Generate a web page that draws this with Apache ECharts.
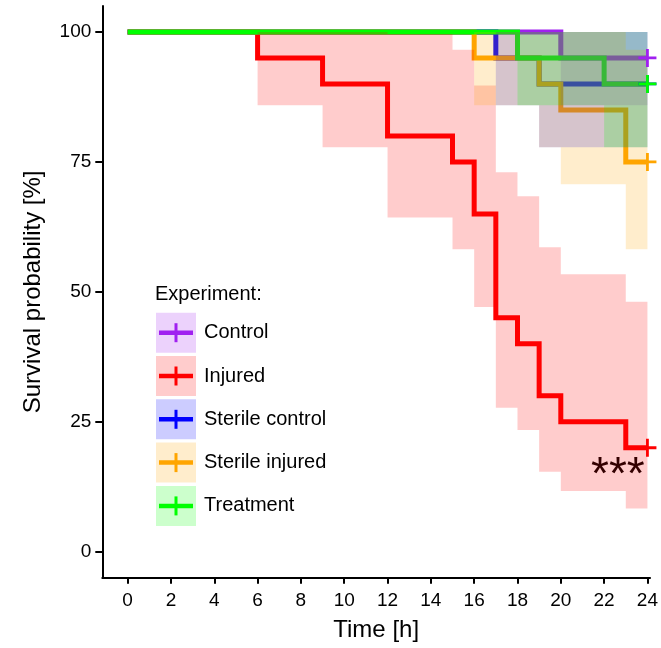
<!DOCTYPE html>
<html>
<head>
<meta charset="utf-8">
<script src="https://cdn.jsdelivr.net/npm/echarts@6/dist/echarts.min.js"></script>
<style>
  html, body { margin: 0; padding: 0; background: #fff; }
  #chart { width: 661px; height: 648px; }
</style>
</head>
<body>
<div id="chart"></div>
<script>
// groups and colours
const groups = ['Control', 'Injured', 'Sterile control', 'Sterile injured', 'Treatment'];
const colors = ['#A020F0', '#FF0000', '#0000FF', '#FFA500', '#00FF00'];

// Kaplan-Meier steps (time [h], survival [%]) with confidence band per interval
const controlTime  = [0, 20, 24];
const controlSurv  = [100, 95, 95];
const controlLow   = [100, 85.9, 85.9];
const controlUp    = [100, 100, 100];

const injuredTime  = [0, 6, 9, 12, 15, 16, 17, 18, 19, 20, 23, 24];
const injuredSurv  = [100, 95, 90, 80, 75, 65, 45, 40, 30, 25, 20, 20];
const injuredLow   = [100, 85.9, 77.8, 64.3, 58.2, 47.1, 27.7, 23.4, 15.4, 11.7, 8.3, 8.3];
const injuredUp    = [100, 100, 100, 99.6, 96.6, 89.7, 73.0, 68.4, 58.6, 53.4, 48.1, 48.1];

const sterCtrlTime = [0, 17, 19, 24];
const sterCtrlSurv = [100, 95, 90, 90];
const sterCtrlLow  = [100, 85.9, 77.8, 77.8];
const sterCtrlUp   = [100, 100, 100, 100];

const sterInjTime  = [0, 16, 19, 20, 23, 24];
const sterInjSurv  = [100, 95, 90, 85, 75, 75];
const sterInjLow   = [100, 85.9, 77.8, 70.7, 58.2, 58.2];
const sterInjUp    = [100, 100, 100, 100, 96.6, 96.6];

const treatTime    = [0, 18, 22, 24];
const treatSurv    = [100, 95, 90, 90];
const treatLow     = [100, 85.9, 77.8, 77.8];
const treatUp      = [100, 100, 100, 100];

const xTicks = [0, 2, 4, 6, 8, 10, 12, 14, 16, 18, 20, 22, 24];
const yTicks = [0, 25, 50, 75, 100];

const curves = [
  {t: controlTime,  s: controlSurv,  lo: controlLow,  up: controlUp},
  {t: injuredTime,  s: injuredSurv,  lo: injuredLow,  up: injuredUp},
  {t: sterCtrlTime, s: sterCtrlSurv, lo: sterCtrlLow, up: sterCtrlUp},
  {t: sterInjTime,  s: sterInjSurv,  lo: sterInjLow,  up: sterInjUp},
  {t: treatTime,    s: treatSurv,    lo: treatLow,    up: treatUp}
];

const FONT = '"Liberation Sans", Arial, Helvetica, sans-serif';
const plusPath = 'path://M7.6,0 h2.8 v18 h-2.8 z M0,7.6 h18 v2.8 h-18 z';

let chart = echarts.init(document.getElementById('chart'));

let series = [];
// step lines (drawn first, bands go on top like in ggsurvplot)
curves.forEach((c, i) => {
  series.push({
    name: groups[i],
    type: 'line',
    step: 'end',
    z: 2,
    symbol: 'none',
    silent: true,
    data: c.t.map((t, k) => [t, c.s[k]]),
    lineStyle: {color: colors[i], width: 5, cap: 'butt', join: 'miter'}
  });
});
// confidence bands
curves.forEach((c, i) => {
  series.push({
    name: groups[i] + ' CI',
    type: 'custom',
    z: 3,
    silent: true,
    data: [[c.t[0], c.s[0]]],
    renderItem: function (params, api) {
      let pts = [];
      for (let k = 0; k < c.t.length - 1; k++) {
        pts.push(api.coord([c.t[k], c.up[k]]));
        pts.push(api.coord([c.t[k + 1], c.up[k]]));
      }
      for (let k = c.t.length - 2; k >= 0; k--) {
        pts.push(api.coord([c.t[k + 1], c.lo[k]]));
        pts.push(api.coord([c.t[k], c.lo[k]]));
      }
      return {
        type: 'polygon',
        shape: {points: pts},
        style: {fill: colors[i], opacity: 0.2}
      };
    }
  });
});
// censor marks at the end
curves.forEach((c, i) => {
  let last = c.t.length - 1;
  series.push({
    name: groups[i] + ' censor',
    type: 'scatter',
    z: 4,
    silent: true,
    symbol: plusPath,
    symbolSize: 18,
    data: [[c.t[last], c.s[last]]],
    itemStyle: {color: colors[i], opacity: 1}
  });
});

// legend drawn as graphic (box + plus + label)
let legendItems = [{
  type: 'text', left: 155, top: 284,
  style: {text: 'Experiment:', font: '20px ' + FONT, fill: '#000'}
}];
groups.forEach((g, i) => {
  let y = 312.7 + i * 43.3;
  legendItems.push({
    type: 'rect', shape: {x: 156, y: y, width: 40, height: 40},
    style: {fill: colors[i], opacity: 0.2}
  });
  legendItems.push({
    type: 'line', shape: {x1: 159, y1: y + 20, x2: 193, y2: y + 20},
    style: {stroke: colors[i], lineWidth: 4.5}
  });
  legendItems.push({
    type: 'line', shape: {x1: 176, y1: y + 10.5, x2: 176, y2: y + 29.5},
    style: {stroke: colors[i], lineWidth: 3}
  });
  legendItems.push({
    type: 'text', left: 204, top: y + 10,
    style: {text: g, font: '20px ' + FONT, fill: '#000'}
  });
});
legendItems.push({
  type: 'text', left: 591, top: 453,
  style: {text: '***', font: '46px ' + FONT, fill: '#000'}
});

chart.setOption({
  animation: false,
  backgroundColor: '#fff',
  grid: {left: 102.3, right: 6, top: 6, bottom: 70.3},
  xAxis: {
    type: 'value',
    min: -1.17,
    max: 24.12,
    name: 'Time [h]',
    nameLocation: 'middle',
    nameGap: 41,
    nameTextStyle: {fontFamily: FONT, fontSize: 24, color: '#000'},
    axisLine: {onZero: false, lineStyle: {color: '#000', width: 2}},
    axisTick: {show: true, length: 6, customValues: xTicks, lineStyle: {color: '#000', width: 2}},
    axisLabel: {customValues: xTicks, fontFamily: FONT, fontSize: 19, color: '#000', margin: 14},
    splitLine: {show: false}
  },
  yAxis: {
    type: 'value',
    min: -5,
    max: 105,
    name: 'Survival probability [%]',
    nameLocation: 'middle',
    nameGap: 57,
    nameTextStyle: {fontFamily: FONT, fontSize: 24, color: '#000'},
    axisLine: {show: true, onZero: false, lineStyle: {color: '#000', width: 2}},
    axisTick: {show: true, length: 7, customValues: yTicks, lineStyle: {color: '#000', width: 2}},
    axisLabel: {customValues: yTicks, fontFamily: FONT, fontSize: 19, color: '#000', margin: 11},
    splitLine: {show: false}
  },
  graphic: legendItems,
  series: series
});
</script>
</body>
</html>
